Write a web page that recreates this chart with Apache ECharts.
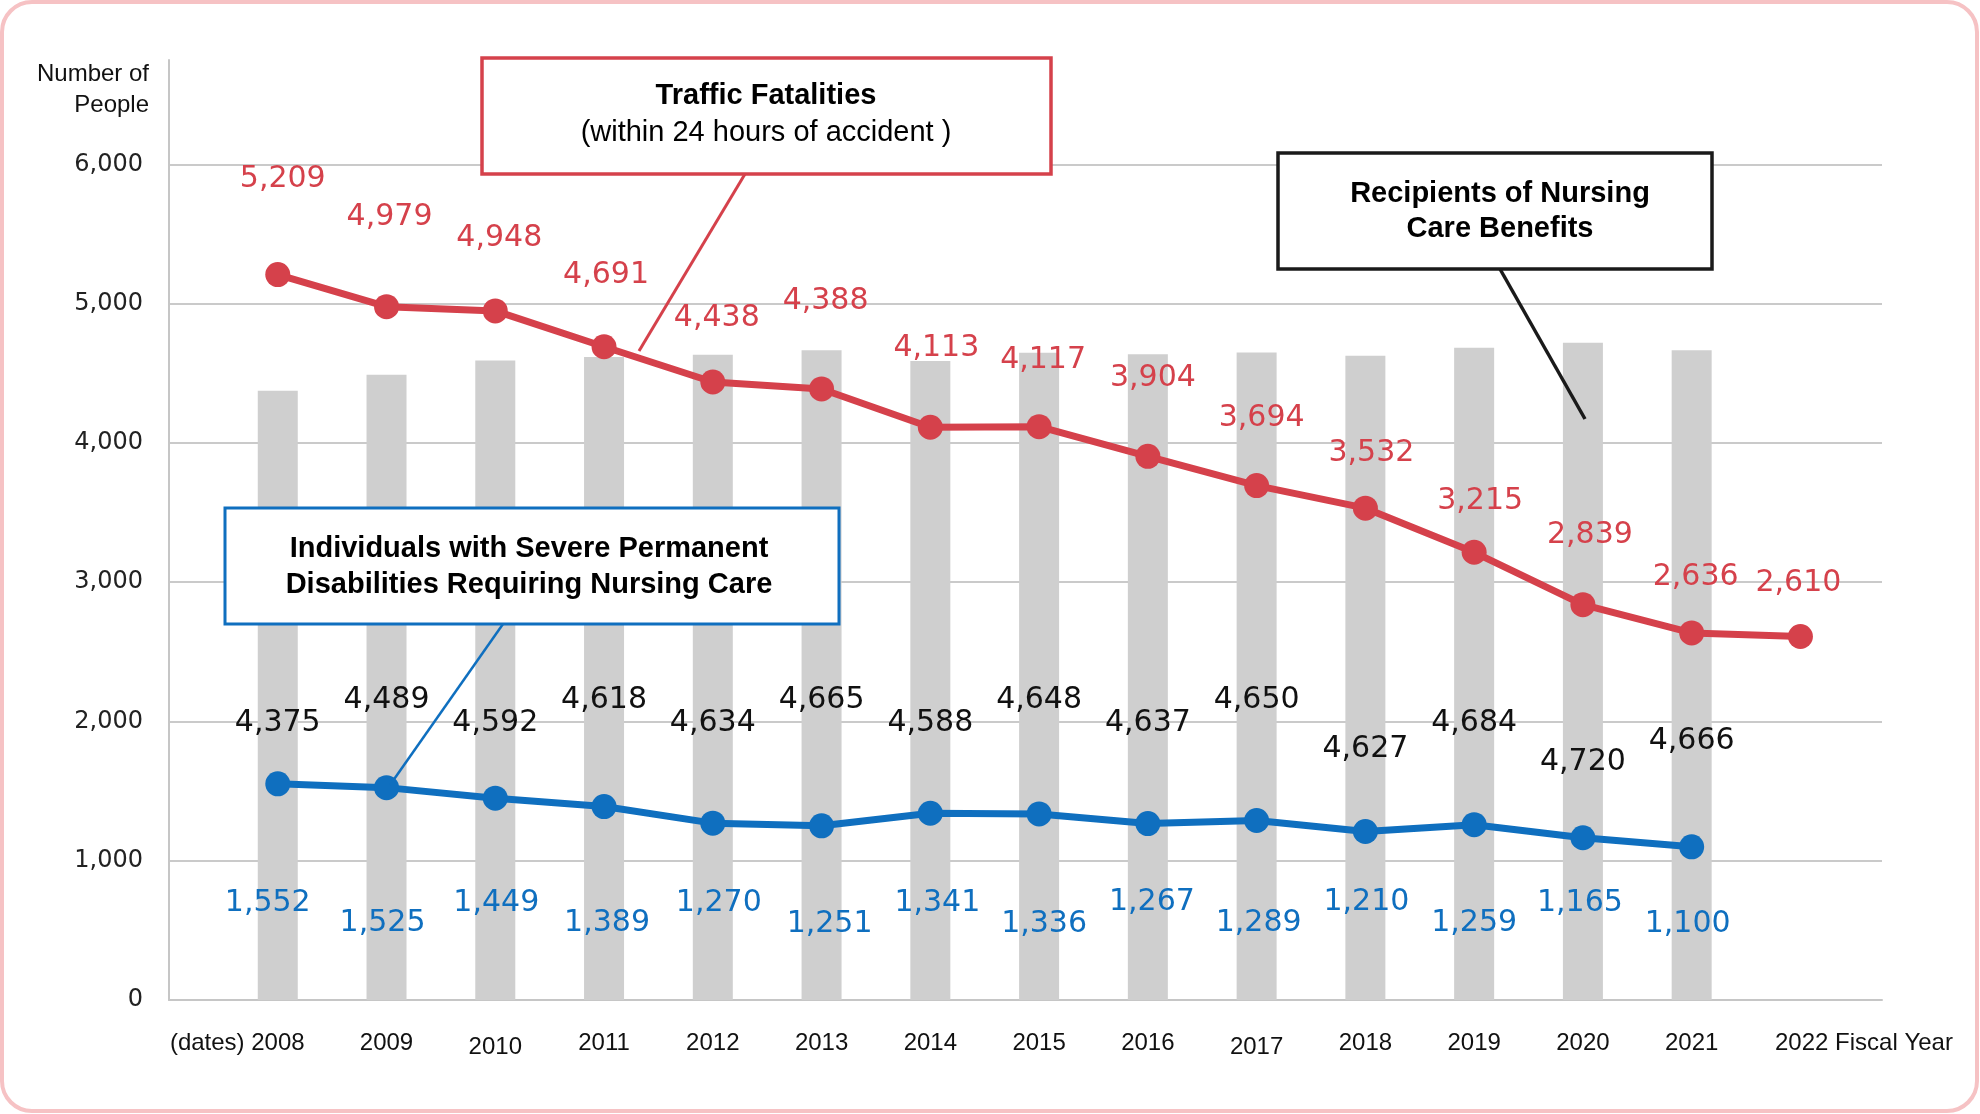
<!DOCTYPE html>
<html lang="en">
<head>
<meta charset="utf-8">
<title>Traffic Fatalities / Nursing Care</title>
<script src="https://cdn.jsdelivr.net/npm/echarts@6/dist/echarts.min.js"></script>
<style>
  html, body { margin: 0; padding: 0; background: #fff; }
  #chart { width: 1980px; height: 1114px; }
</style>
</head>
<body>
<div id="chart"></div>
<script>
// fiscal years
const years = [2008, 2009, 2010, 2011, 2012, 2013, 2014, 2015, 2016, 2017, 2018, 2019, 2020, 2021, 2022];
// traffic fatalities (within 24 hours)
const fatalities = [5209, 4979, 4948, 4691, 4438, 4388, 4113, 4117, 3904, 3694, 3532, 3215, 2839, 2636, 2610];
// recipients of nursing care benefits (bars, to 2021)
const recipients = [4375, 4489, 4592, 4618, 4634, 4665, 4588, 4648, 4637, 4650, 4627, 4684, 4720, 4666];
// individuals with severe permanent disabilities (to 2021)
const severe = [1552, 1525, 1449, 1389, 1270, 1251, 1341, 1336, 1267, 1289, 1210, 1259, 1165, 1100];
const yTicks = [0, 1000, 2000, 3000, 4000, 5000, 6000];

// label placement, px from the mark (the original staggers them by hand)
const fatalLabelOffset = [[5, -95], [3, -89], [4, -73], [2, -72], [4, -64], [4, -88], [6, -79], [4, -66], [5, -78], [5, -67], [6, -55], [6, -51], [7, -69], [4, -56], [-2, -53]];
const severeLabelOffset = [[-10, 119], [-4, 136], [1, 105], [3, 117], [6, 80], [8, 98], [7, 90], [5, 110], [4, 79], [2, 103], [1, 71], [0, 99], [-3, 65], [-4, 77]];
const recipLabelOffset = [[0, 28], [0, 13], [0, 43], [0, 22], [0, 46], [0, 25], [0, 43], [0, 24], [0, 46], [0, 24], [0, 71], [0, 49], [0, 91], [0, 66]];

const RED = '#d5414b';
const BLUE = '#0f6fbf';
const GREY_BAR = '#cfcfcf';
const AXIS_FONT = '"Liberation Sans", Arial, sans-serif';
const LABEL_FONT = '"DejaVu Sans", "Noto Sans", sans-serif';

const fmt = v => v.toLocaleString('en-US');

const chart = echarts.init(document.getElementById('chart'), null, { renderer: 'canvas' });

const pairs = (vals, offsets) => vals.map((v, i) => ({
  value: [years[i], v],
  label: { offset: offsets[i] }
}));

const boxText = (x, y, text, weight) => ({
  type: 'text', z: 101,
  style: {
    x, y, text, fill: '#000',
    font: `${weight} 29px ${AXIS_FONT}`,
    textAlign: 'center', textVerticalAlign: 'middle'
  }
});

const option = {
  backgroundColor: '#fff',
  animation: false,
  grid: { left: 169, right: 98, top: 60, bottom: 114, containLabel: false },
  xAxis: {
    type: 'value', min: 2007, max: 2022.75, interval: 1,
    axisLine: { show: true, lineStyle: { color: '#c6c6c6', width: 2 } },
    axisTick: { show: false },
    splitLine: { show: false },
    axisLabel: {
      margin: 31, color: '#111', fontSize: 24, fontFamily: AXIS_FONT,
      formatter: v => {
        if (!Number.isInteger(v) || v < 2008) return '';
        if (v === 2008) return '{p|(dates) }2008{s| }';
        if (v === 2022) return '{w| }2022{p| Fiscal Year}';
        if (v === 2010 || v === 2017) return '{l|' + v + '}';
        return String(v);
      },
      rich: {
        p: { fontSize: 24, fontFamily: AXIS_FONT, color: '#111' },
        s: { width: 81 },
        w: { width: 127 },
        l: { fontSize: 24, fontFamily: AXIS_FONT, color: '#111', padding: [4, 0, 0, 0] }
      }
    }
  },
  yAxis: {
    type: 'value', min: 0, max: 6750, interval: 1000,
    axisLine: { show: true, lineStyle: { color: '#c6c6c6', width: 2 } },
    axisTick: { show: false },
    axisLabel: {
      margin: 26, color: '#222', fontSize: 24, fontFamily: LABEL_FONT,
      showMaxLabel: false,
      formatter: v => (yTicks.includes(v) ? fmt(v) : '')
    },
    splitLine: { show: true, showMaxLine: false, lineStyle: { color: '#cacaca', width: 2 } }
  },
  series: [
    {
      name: 'Recipients of Nursing Care Benefits', type: 'bar',
      barWidth: 40, z: 1,
      itemStyle: { color: GREY_BAR },
      data: pairs(recipients, recipLabelOffset),
      label: {
        show: true, position: 'inside', color: '#111',
        fontSize: 30, fontFamily: LABEL_FONT,
        formatter: p => fmt(p.value[1])
      }
    },
    {
      name: 'Traffic Fatalities', type: 'line', z: 3,
      symbol: 'circle', symbolSize: 25,
      lineStyle: { color: RED, width: 7 },
      itemStyle: { color: RED },
      data: pairs(fatalities, fatalLabelOffset),
      label: {
        show: true, position: 'inside', color: RED,
        fontSize: 30, fontFamily: LABEL_FONT,
        formatter: p => fmt(p.value[1])
      }
    },
    {
      name: 'Individuals with Severe Permanent Disabilities', type: 'line', z: 3,
      symbol: 'circle', symbolSize: 25,
      lineStyle: { color: BLUE, width: 7 },
      itemStyle: { color: BLUE },
      data: pairs(severe, severeLabelOffset),
      label: {
        show: true, position: 'inside', color: BLUE,
        fontSize: 30, fontFamily: LABEL_FONT,
        formatter: p => fmt(p.value[1])
      }
    }
  ],
  graphic: [
    // rounded frame
    {
      type: 'rect', z: 0, silent: true,
      shape: { x: 2, y: 2, width: 1975, height: 1109, r: 30 },
      style: { fill: 'none', stroke: '#f6c2c4', lineWidth: 4 }
    },
    // y axis title
    {
      type: 'text', z: 100,
      style: {
        x: 149, y: 74, text: 'Number of', fill: '#111',
        font: `24px ${AXIS_FONT}`, textAlign: 'right', textVerticalAlign: 'middle'
      }
    },
    {
      type: 'text', z: 100,
      style: {
        x: 149, y: 105, text: 'People', fill: '#111',
        font: `24px ${AXIS_FONT}`, textAlign: 'right', textVerticalAlign: 'middle'
      }
    },
    // callout: traffic fatalities
    { type: 'line', z: 99, shape: { x1: 745, y1: 174, x2: 639, y2: 351 }, style: { stroke: RED, lineWidth: 3 } },
    {
      type: 'rect', z: 100,
      shape: { x: 482, y: 58, width: 569, height: 116 },
      style: { fill: '#fff', stroke: RED, lineWidth: 3.5 }
    },
    boxText(766, 95.5, 'Traffic Fatalities', 'bold'),
    boxText(766, 132.5, '(within 24 hours of accident )', 'normal'),
    // callout: recipients
    { type: 'line', z: 99, shape: { x1: 1500, y1: 269, x2: 1585, y2: 419 }, style: { stroke: '#1a1a1a', lineWidth: 3.5 } },
    {
      type: 'rect', z: 100,
      shape: { x: 1278, y: 153, width: 434, height: 116 },
      style: { fill: '#fff', stroke: '#1a1a1a', lineWidth: 3.5 }
    },
    boxText(1500, 193.5, 'Recipients of Nursing', 'bold'),
    boxText(1500, 228.5, 'Care Benefits', 'bold'),
    // callout: severe disabilities
    { type: 'line', z: 99, shape: { x1: 503, y1: 624, x2: 390, y2: 785 }, style: { stroke: BLUE, lineWidth: 2.5 } },
    {
      type: 'rect', z: 100,
      shape: { x: 225, y: 508, width: 614, height: 116 },
      style: { fill: '#fff', stroke: BLUE, lineWidth: 3 }
    },
    boxText(529, 548.5, 'Individuals with Severe Permanent', 'bold'),
    boxText(529, 584.5, 'Disabilities Requiring Nursing Care', 'bold')
  ]
};

chart.setOption(option);
window.addEventListener('resize', () => chart.resize());
</script>
</body>
</html>
